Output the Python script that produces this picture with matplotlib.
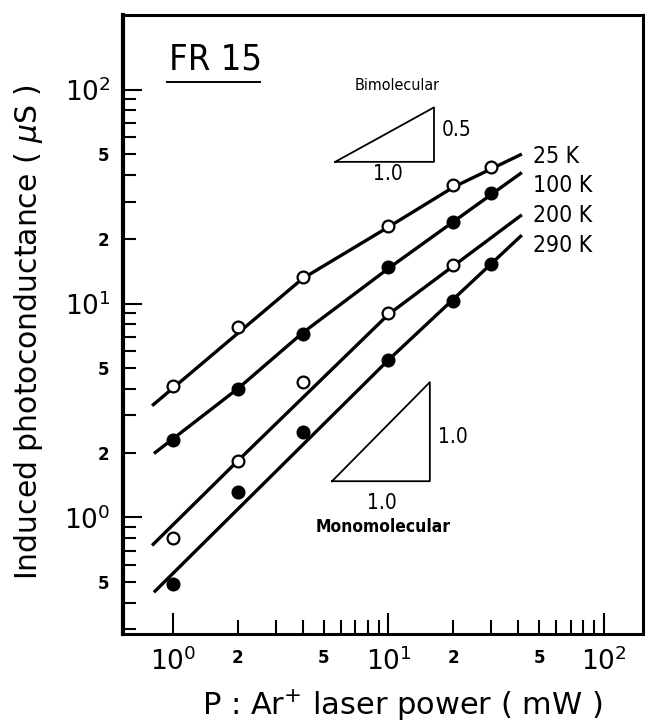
import math

import matplotlib
matplotlib.use("Agg")
from matplotlib import pyplot as plt
from matplotlib import font_manager
from matplotlib.ticker import FixedLocator, FuncFormatter

# measured photoconductance (uS) vs Ar+ laser power (mW)
power_mw = [1, 2, 4, 10, 20, 30]
g_25k = [4.1, 7.8, 13.3, 23.0, 36.0, 43.5]
g_100k = [2.3, 4.0, 7.2, 14.8, 24.0, 33.0]
power_200k = [1, 2, 4, 10, 20]
g_200k = [0.80, 1.84, 4.3, 9.0, 15.1]
g_290k = [0.49, 1.32, 2.5, 5.45, 10.3, 15.3]

# hand-drawn fit lines through the points
fit_25k_x = [0.80, 4.0, 10, 20, 41.6]
fit_25k_y = [3.33, 13.1, 22.8, 35.0, 50.0]
fit_100k_x = [0.816, 2.0, 4.0, 10, 41.6]
fit_100k_y = [1.99, 4.0, 7.3, 14.6, 41.0]
fit_200k_x = [0.80, 2.0, 10, 41.6]
fit_200k_y = [0.74, 1.84, 8.9, 26.0]
fit_290k_x = [0.816, 10, 41.6]
fit_290k_y = [0.447, 5.45, 20.9]

temps = ["25 K", "100 K", "200 K", "290 K"]

# look for condensed sans faces, otherwise use Liberation Sans
narrow = narrow_bold = None
for f in font_manager.fontManager.ttflist:
    fn = f.fname.lower()
    if not (("narrow" in fn or "condensed" in fn) and "sans" in fn and "mono" not in fn):
        continue
    if "oblique" in fn or "italic" in fn:
        continue
    if "bold" in fn:
        if narrow_bold is None:
            narrow_bold = font_manager.FontProperties(fname=f.fname)
    elif narrow is None:
        narrow = font_manager.FontProperties(fname=f.fname)
if narrow is None:
    narrow = font_manager.FontProperties(family="Liberation Sans")
if narrow_bold is None:
    narrow_bold = font_manager.FontProperties(family="Liberation Sans", weight="bold")

plt.rcParams["font.family"] = ["DejaVu Sans"]
plt.rcParams["mathtext.fontset"] = "dejavusans"

fig = plt.figure(figsize=(6.47, 7.23), dpi=100)
ax = fig.add_axes([0.190, 0.123, 0.804, 0.856])
ax.set_xscale("log")
ax.set_yscale("log")
ax.set_xlim(0.586, 152)
ax.set_ylim(0.285, 223)

lw = 2.4
for fx, fy in [(fit_25k_x, fit_25k_y), (fit_100k_x, fit_100k_y),
               (fit_200k_x, fit_200k_y), (fit_290k_x, fit_290k_y)]:
    ax.plot(fx, fy, color="black", lw=lw, solid_capstyle="butt", zorder=2)

open_kw = dict(marker="o", ms=8.5, mfc="white", mec="black", mew=1.6, ls="none", zorder=3)
fill_kw = dict(marker="o", ms=8.5, mfc="black", mec="black", mew=1.6, ls="none", zorder=3)
ax.plot(power_mw, g_25k, **open_kw)
ax.plot(power_mw, g_100k, **fill_kw)
ax.plot(power_200k, g_200k, **open_kw)
ax.plot(power_mw, g_290k, **fill_kw)


def txt(x, y, s, size, ha="center", bold=False):
    fp = (narrow_bold if bold else narrow).copy()
    fp.set_size(size)
    ax.text(x, y, s, transform=ax.transAxes, fontproperties=fp, ha=ha, va="center")


# temperature labels
for label, ypos in zip(temps, [0.771, 0.725, 0.676, 0.628]):
    txt(0.788, ypos, label, 16.5, ha="left")

# slope triangles
ax.plot([0.408, 0.598, 0.598, 0.408], [0.763, 0.763, 0.851, 0.763],
        transform=ax.transAxes, color="black", lw=1.3)
txt(0.527, 0.886, "Bimolecular", 11.5)
txt(0.612, 0.814, "0.5", 15, ha="left")
txt(0.510, 0.743, "1.0", 15)

ax.plot([0.402, 0.590, 0.590, 0.402], [0.247, 0.247, 0.407, 0.247],
        transform=ax.transAxes, color="black", lw=1.3)
txt(0.606, 0.318, "1.0", 15, ha="left")
txt(0.498, 0.212, "1.0", 15)
txt(0.50, 0.173, "Monomolecular", 12.5, bold=True)

# sample name, underlined
txt(0.088, 0.929, "FR 15", 26, ha="left")
ax.plot([0.085, 0.263], [0.892, 0.892], transform=ax.transAxes, color="black", lw=1.4)

# axes styling
for side in ["top", "right", "bottom"]:
    ax.spines[side].set_linewidth(2.2)
ax.spines["left"].set_linewidth(3.0)


def major_fmt(v, pos):
    return r"$\mathregular{10^{%d}}$" % round(math.log10(v))


def minor_fmt(v, pos):
    lead = round(v / 10 ** math.floor(math.log10(v) + 1e-9))
    return str(lead) if lead in (2, 5) and v < 100 else ""


ax.xaxis.set_major_locator(FixedLocator([1, 10, 100]))
ax.xaxis.set_minor_locator(FixedLocator([m * 10 ** e for e in (0, 1) for m in range(2, 10)]))
ax.yaxis.set_major_locator(FixedLocator([1, 10, 100]))
ax.yaxis.set_minor_locator(FixedLocator([m * 10 ** e for e in (-1, 0, 1) for m in range(3, 10)]
                                        + [2, 20]))
for axis in [ax.xaxis, ax.yaxis]:
    axis.set_major_formatter(FuncFormatter(major_fmt))
    axis.set_minor_formatter(FuncFormatter(minor_fmt))

ax.tick_params(which="both", direction="in", top=False, right=False, width=1.5)
ax.tick_params(axis="y", which="major", length=14, labelsize=19, pad=9)
ax.tick_params(axis="y", which="minor", length=9.5, labelsize=12, pad=10)
ax.tick_params(axis="x", which="major", length=15, labelsize=19, pad=10)
ax.tick_params(axis="x", which="minor", length=10, labelsize=12, pad=11)
for t in ax.xaxis.get_minorticklabels() + ax.yaxis.get_minorticklabels():
    t.set_fontweight("bold")

ax.set_xlabel(r"P : Ar$^{+}$ laser power ( mW )", fontsize=22, va="center")
ax.set_ylabel(r"Induced photoconductance ( $\mu$S )", fontsize=21.5)
ax.xaxis.set_label_coords(0.538, -0.115)
ax.yaxis.set_label_coords(-0.150, 0.488)

fig.savefig("out.png", dpi=100)
